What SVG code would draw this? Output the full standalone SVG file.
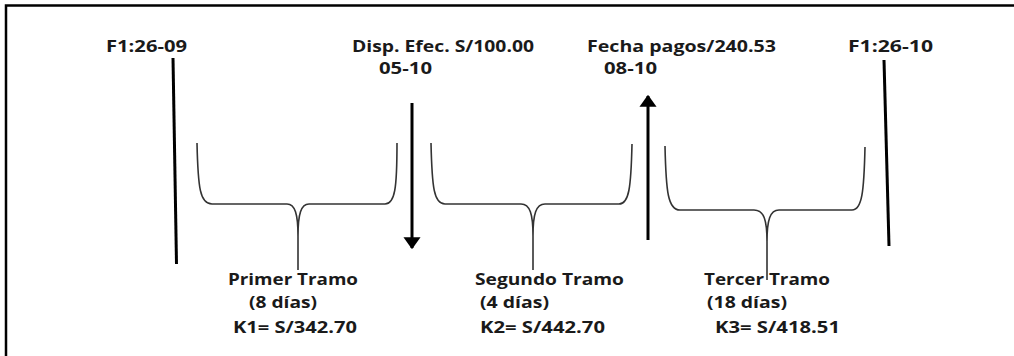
<svg xmlns="http://www.w3.org/2000/svg" width="1014" height="356" viewBox="0 0 1014 356">
<style>
  text { font-family: "Open Sans", "Liberation Sans", sans-serif; font-weight: bold; font-size: 16px; fill: #1a1a1a; }
  .bar { stroke: #000; stroke-width: 3; fill: none; }
  .brace { stroke: #333; stroke-width: 1.6; fill: none; }
  .frame { stroke: #000; stroke-width: 2.5; fill: none; }
</style>
<defs>
  <marker id="ah" viewBox="0 0 10 10" refX="9" refY="5" markerWidth="4" markerHeight="5.7" markerUnits="strokeWidth" orient="auto" preserveAspectRatio="none">
    <path d="M0,0 L10,5 L0,10 z" fill="#000"/>
  </marker>
</defs>
<rect width="1014" height="356" fill="#fff"/>
<path class="frame" d="M6,356 L6,5.5 L1014,5.5"/>

<g id="connectors">
  <line class="bar" x1="412" y1="103" x2="412" y2="248" marker-end="url(#ah)"/>
  <line class="bar" x1="648" y1="240" x2="648" y2="96" marker-end="url(#ah)"/>
</g>

<g id="date-start">
  <line class="bar" x1="173" y1="58" x2="176.5" y2="264"/>
  <text x="106" y="52" textLength="81" lengthAdjust="spacingAndGlyphs">F1:26-09</text>
</g>
<g id="disp">
  <text x="352" y="52" textLength="182" lengthAdjust="spacingAndGlyphs">Disp. Efec. S/100.00</text>
  <text x="379" y="74" textLength="53" lengthAdjust="spacingAndGlyphs">05-10</text>
</g>
<g id="pagos">
  <text x="587" y="52" textLength="189" lengthAdjust="spacingAndGlyphs">Fecha pagos/240.53</text>
  <text x="604" y="74" textLength="53" lengthAdjust="spacingAndGlyphs">08-10</text>
</g>
<g id="date-end">
  <line class="bar" x1="884" y1="60" x2="889" y2="246"/>
  <text x="848" y="52" textLength="85" lengthAdjust="spacingAndGlyphs">F1:26-10</text>
</g>

<g id="tramo1">
  <path class="brace" d="M197,143 C198,188 200,204 212,204 L287,204 C295,204 298,214 298,236 L298,270 M298,236 C298,214 301,204 309,204 L385,204 C395,204 397,188 397,143"/>
  <text x="228" y="285" textLength="130" lengthAdjust="spacingAndGlyphs">Primer Tramo</text>
  <text x="249" y="308" textLength="68" lengthAdjust="spacingAndGlyphs">(8 días)</text>
  <text x="233" y="333" textLength="124" lengthAdjust="spacingAndGlyphs">K1= S/342.70</text>
</g>
<g id="tramo2">
  <path class="brace" d="M431,143 C432,188 434,204 445,204 L521,204 C530,204 533,214 533,236 L533,270 M533,236 C533,214 536,204 545,204 L619,204 C629,204 631,188 632,144"/>
  <text x="475" y="285" textLength="149" lengthAdjust="spacingAndGlyphs">Segundo Tramo</text>
  <text x="480" y="308" textLength="69" lengthAdjust="spacingAndGlyphs">(4 días)</text>
  <text x="480" y="333" textLength="125" lengthAdjust="spacingAndGlyphs">K2= S/442.70</text>
</g>
<g id="tramo3">
  <path class="brace" d="M665,146 C666,192 668,210 680,210 L754,210 C764,210 767,220 767,242 L767,280 M767,242 C767,220 770,210 779,210 L852,210 C862,210 864,192 865,147"/>
  <text x="704" y="285" textLength="126" lengthAdjust="spacingAndGlyphs">Tercer Tramo</text>
  <text x="707" y="308" textLength="80" lengthAdjust="spacingAndGlyphs">(18 días)</text>
  <text x="715" y="333" textLength="125" lengthAdjust="spacingAndGlyphs">K3= S/418.51</text>
</g>
</svg>
